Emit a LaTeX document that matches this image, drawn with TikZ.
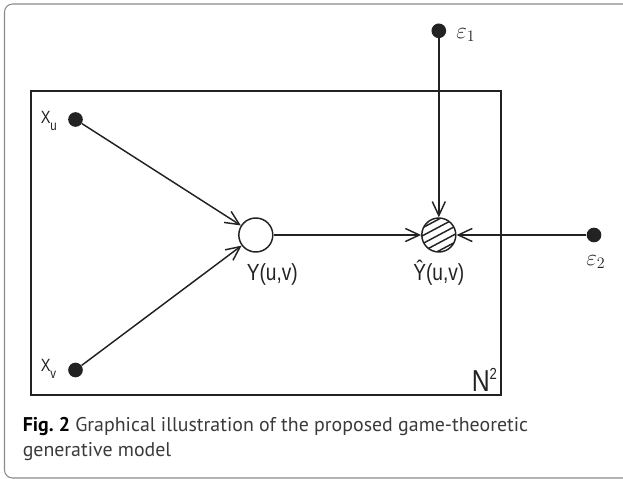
\documentclass[tikz,border=0pt]{standalone}
\usepackage{fontspec}
\setmainfont{PT Sans}
\newfontfamily\narrowfont[FakeStretch=0.82]{Liberation Sans}
\usetikzlibrary{arrows.meta}
\definecolor{cFrame}{HTML}{8A8A8A}
\definecolor{cCap}{HTML}{3A3A3A}
\definecolor{cInk}{HTML}{222222}

\begin{document}
\begin{tikzpicture}[
  x=0.75pt, y=-0.75pt,
  % ── nut quan sat, bien an, nhan ──
  dot/.style={circle, fill=cInk, inner sep=0pt, minimum size=11pt},
  var/.style={circle, draw=cInk, line width=1.1pt, inner sep=0pt,
              minimum size=25.5pt},
  lbl/.style={font=\narrowfont\fontsize{17.5}{20}\selectfont, text=cInk,
              inner sep=0pt, anchor=base west},
  eps/.style={font=\fontsize{17}{18}\selectfont, text=cInk,
              inner sep=0pt, anchor=base west},
  a/.style={-{Straight Barb[length=10.5pt,width=9.8pt]}, line width=1.1pt, cInk},
  hatch/.style={line width=1.1pt, cInk},
  figcap/.style={font=\fontsize{14.9}{18.75}\selectfont, text=cCap, align=left,
              anchor=north west, inner sep=0pt},
]
\useasboundingbox (0,0) rectangle (623,478);

% ── khung ngoai ──
\draw[cFrame, line width=0.8pt, rounded corners=6pt]
  (640,4) -- (4.5,4) -- (4.5,478) -- (640,478);

% ── plate N^2 ──
\draw[line width=1.3pt, cInk] (31,91) rectangle (501,395);
\node[lbl, font=\narrowfont\fontsize{22.7}{24}\selectfont] (nn) at (471.5,391.5)
  {N\raisebox{9pt}{\fontsize{12}{12}\selectfont 2}};

% ── nut ──
\node[dot] (xu) at (75.5,119.5) {};
\node[dot] (xv) at (75.5,370) {};
\node[var, fill=white] (y) at (255.8,235) {};
\node[var] (yh) at (438.8,235) {};
\node[dot] (e1) at (438.8,30.8) {};
\node[dot] (e2) at (594,235) {};

% ── gach cheo trong Y-hat ──
\begin{scope}[shift={(yh.center)}, rotate=28]
  \clip (0,0) circle (17);
  \foreach \d in {-14,-7,0,7,14}
    \draw[hatch] (-20,\d) -- (20,\d);
\end{scope}

% ── nhan ──
\node[lbl, font=\narrowfont\fontsize{13.3}{15}\selectfont] (xul) at (40.5,123)
  {X\raisebox{-5.5pt}{\fontsize{10.5}{11}\selectfont u}};
\node[lbl, font=\narrowfont\fontsize{13.3}{15}\selectfont] (xvl) at (40.5,371.5)
  {X\raisebox{-5.5pt}{\fontsize{10.5}{11}\selectfont v}};
\node[lbl] (yl) at (246.5,280) {Y(u,v)};
\node[lbl] (yhl) at (413,280) {\^{Y}(u,v)};
\node[eps] (e1l) at (456,38.3) {$\varepsilon_1$};
\node[eps] (e2l) at (586,265) {$\varepsilon_2$};

% ── canh ──
\draw[a] (xu) -- (y);
\draw[a] (xv) -- (y);
\draw[a] (y) -- (yh);
\draw[a] (e1) -- (yh);
\draw[a] (e2) -- (yh);

% ── chu thich ──
\node[figcap] (cp) at (22.5,417)
  {\textbf{\color{black}Fig.~2} Graphical illustration of the proposed game-theoretic\\
   generative model};
\end{tikzpicture}
\end{document}
